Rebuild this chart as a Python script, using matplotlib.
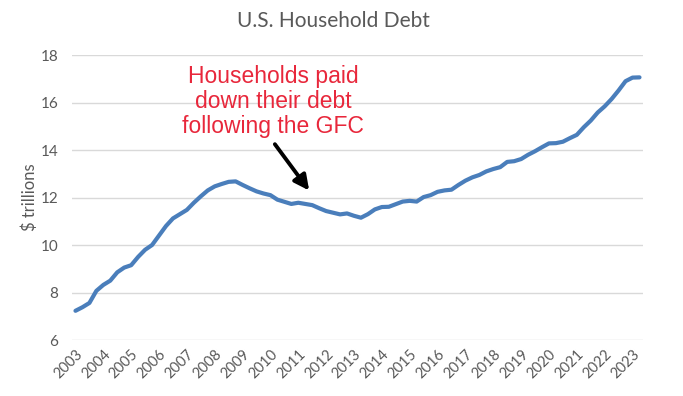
import matplotlib.pyplot as plt

# quarterly household debt, $ trillions, 2003Q1 - 2023Q2
years = list(range(2003, 2024))
debt = [
    7.23, 7.38, 7.56, 8.07, 8.32, 8.50, 8.85, 9.05,
    9.15, 9.50, 9.80, 10.00, 10.40, 10.80, 11.12, 11.30,
    11.48, 11.78, 12.05, 12.30, 12.47, 12.57, 12.66, 12.68,
    12.53, 12.39, 12.26, 12.17, 12.10, 11.91, 11.82, 11.73,
    11.78, 11.73, 11.68, 11.55, 11.43, 11.36, 11.29, 11.33,
    11.23, 11.15, 11.30, 11.50, 11.60, 11.61, 11.72, 11.83,
    11.86, 11.83, 12.02, 12.10, 12.24, 12.30, 12.33, 12.53,
    12.71, 12.85, 12.95, 13.10, 13.20, 13.28, 13.50, 13.53,
    13.62, 13.80, 13.95, 14.12, 14.28, 14.29, 14.35, 14.50,
    14.64, 14.96, 15.24, 15.58, 15.84, 16.15, 16.51, 16.90,
    17.05, 17.06,
]
note = "Households paid\ndown their debt\nfollowing the GFC"

grey = "#595959"
fig = plt.figure(figsize=(6.83, 3.96), dpi=100)
ax = fig.add_axes([0.1054, 0.1414, 0.836, 0.7196])

x = list(range(len(debt)))
ax.plot(x, debt, color="#4a7ebb", linewidth=3, solid_capstyle="round")

ax.set_xlim(-0.5, len(debt) - 0.5)
ax.set_ylim(6, 18)
ax.set_yticks(range(6, 19, 2))
ax.set_xticks(range(0, len(debt), 4))
ax.set_xticklabels([str(y) for y in years], rotation=45, ha="right",
                   rotation_mode="anchor", family="Lato", fontsize=10.5, color=grey)
for lab in ax.get_yticklabels():
    lab.set_family("Lato")
    lab.set_fontsize(11)
    lab.set_color(grey)
ax.tick_params(axis="both", length=0)
ax.tick_params(axis="y", pad=10)
ax.tick_params(axis="x", pad=5)
ax.grid(axis="y", color="#d9d9d9", linewidth=1)
ax.set_axisbelow(True)
for s in ax.spines.values():
    s.set_visible(False)

ax.set_ylabel("$ trillions", family="Lato", fontsize=12, color=grey, labelpad=2)
fig.text(0.488, 0.948, "U.S. Household Debt", ha="center", va="center",
         family="Lato", fontsize=15, color=grey)

ax.text(28.4, 16.05, note, ha="center", va="center", color="#e8273b",
        family="Liberation Sans", fontsize=16.5, linespacing=1.12)
ax.annotate("", xy=(33.8, 12.2), xytext=(28.4, 14.34),
            arrowprops=dict(arrowstyle="-|>,head_length=0.9,head_width=0.45",
                            color="black", linewidth=2.8))

fig.savefig("out.png", dpi=100)
